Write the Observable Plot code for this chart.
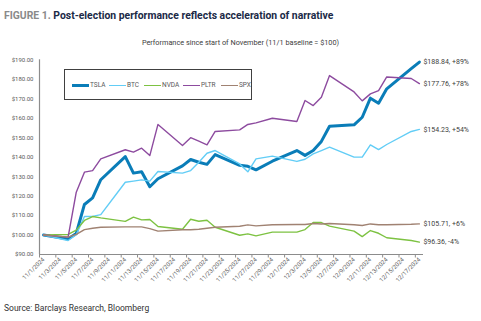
<!DOCTYPE html>
<html><head><meta charset="utf-8">
<script src="https://cdn.jsdelivr.net/npm/d3@7"></script>
<script src="https://cdn.jsdelivr.net/npm/@observablehq/plot@0.6"></script>
<style>
html,body{margin:0;padding:0;background:#fff;}
#wrap{position:relative;width:481px;height:321px;overflow:hidden;font-family:Roboto,"Open Sans",sans-serif;}
#wrap svg{position:absolute;left:0;top:0;}
#title{position:absolute;left:4px;top:9px;font-size:10.4px;font-weight:bold;color:#1b2a47;white-space:nowrap;}
#title .fig{color:#8a8a8a;}
#subtitle{position:absolute;left:0;width:481px;top:38px;text-align:center;font-size:7.3px;color:#404040;white-space:nowrap;}
#source{position:absolute;left:4px;top:303px;font-size:8.5px;color:#333;white-space:nowrap;}
#legend{position:absolute;left:64px;top:69px;width:188px;height:31px;border:1px solid #404040;box-sizing:border-box;background:#fff;}
.item{position:absolute;top:10px;height:10px;font-size:6.5px;color:#595959;line-height:10px;white-space:nowrap;}
.sw{display:inline-block;width:17px;vertical-align:middle;margin-right:1px;}
</style>
</head><body>
<div id="wrap">
  <div id="chart"></div>
  <div id="title"><span class="fig">FIGURE 1.</span> Post-election performance reflects acceleration of narrative</div>
  <div id="subtitle">Performance since start of November (11/1 baseline = $100)</div>
  <div id="legend"></div>
  <div id="source">Source: Barclays Research, Bloomberg</div>
</div>
<script>
const dates = ["2024-11-01","2024-11-04","2024-11-05","2024-11-06","2024-11-07","2024-11-08",
  "2024-11-11","2024-11-12","2024-11-13","2024-11-14","2024-11-15",
  "2024-11-18","2024-11-19","2024-11-20","2024-11-21","2024-11-22",
  "2024-11-25","2024-11-26","2024-11-27","2024-11-29",
  "2024-12-02","2024-12-03","2024-12-04","2024-12-05","2024-12-06",
  "2024-12-09","2024-12-10","2024-12-11","2024-12-12","2024-12-13",
  "2024-12-16","2024-12-17"];
const tsla = [100,98,100.8,115.7,119.1,128.4,140.3,131.8,132.5,124.8,128.9,135.5,138.8,137.4,136.3,141.3,135.8,135.3,133.5,137.9,143.4,140.9,143.4,148.1,155.9,156.6,160.5,170.3,167.7,175.1,185.5,188.84];
const btc  = [100,97.2,100.2,109.5,109.6,110.5,127.1,127.7,128.3,127.7,132.6,131.8,133.1,137.4,142,143.4,136.5,132.5,139.1,140.5,137.8,138.9,141.7,143.4,145.1,140,140,146.3,143.9,146.5,153.2,154.23];
const nvda = [100,100.3,102.5,107.5,109.5,108.8,107,109.2,107.8,108,104.4,103,108.1,107.1,107.6,104,99.9,100.6,99.6,101.5,101.5,102.8,106.4,106.4,104.6,102,99.2,102.3,100.9,98.6,97.2,96.36];
const pltr = [100,98.9,122,132.3,133.1,139.1,143.8,142.6,144.6,140.8,156.8,146,150,148.2,146.3,153.2,154,156.8,157.6,160,158.3,169.1,166.5,170.8,181.9,173.5,168.9,172.5,174.2,181.2,180.4,177.76];
const spx  = [100,98.9,100.3,102.8,103.5,104,104.2,104.2,104.2,103.3,102,102.7,102.7,103,103.5,104,104.5,105.2,104.7,105.3,105.4,105.4,105.9,105.7,105.9,105.3,104.9,105.7,105.3,105.3,105.5,105.71];

const seriesNames = ["TSLA","BTC","NVDA","PLTR","SPX"];
const seriesValues = [tsla, btc, nvda, pltr, spx];
const seriesColors = ["#0a7db8","#62cdf6","#7dc242","#8d4b9f","#a08272"];
const seriesWidths = [3, 1.4, 1.4, 1.4, 1.4];
const endLabels = ["$188.84, +89%","$154.23, +54%","$96.36, -4%","$177.76, +78%","$105.71, +6%"];
const yTicks = [90,100,110,120,130,140,150,160,170,180,190];
const xTickLabels = ["11/1/2024","11/3/2024","11/5/2024","11/7/2024","11/9/2024","11/11/2024","11/13/2024","11/15/2024","11/17/2024","11/19/2024","11/21/2024","11/23/2024","11/25/2024","11/27/2024","11/29/2024","12/1/2024","12/3/2024","12/5/2024","12/7/2024","12/9/2024","12/11/2024","12/13/2024","12/15/2024","12/17/2024"];

const parseISO = s => new Date(s + "T00:00:00Z");
const parseMDY = s => { const [m,d,y] = s.split("/").map(Number); return new Date(Date.UTC(y, m-1, d)); };
const halfDay = 12*3600*1000;

const rows = [];
seriesNames.forEach((name, i) => {
  seriesValues[i].forEach((v, j) => rows.push({series: name, date: parseISO(dates[j]), value: v}));
});
const lastRows = seriesNames.map((name, i) => ({series: name, date: parseISO(dates[dates.length-1]), value: seriesValues[i][seriesValues[i].length-1], label: endLabels[i]}));

const tickDates = xTickLabels.map(parseMDY);
const edgeDates = tickDates.map(d => new Date(+d - halfDay));
const xDomain = [new Date(+parseISO(dates[0]) - halfDay), new Date(+parseISO(dates[dates.length-1]) + halfDay)];
const fmtTick = d => `${d.getUTCMonth()+1}/${d.getUTCDate()}/${d.getUTCFullYear()}`;

const lineMarks = seriesNames.map((name, i) =>
  Plot.lineY(rows.filter(r => r.series === name), {x: "date", y: "value", stroke: seriesColors[i], strokeWidth: seriesWidths[i], strokeLinejoin: "round", strokeLinecap: "round"})
);

const chart = Plot.plot({
  width: 481, height: 321,
  marginTop: 59.3, marginBottom: 67, marginLeft: 39, marginRight: 58,
  x: {type: "utc", domain: xDomain},
  y: {domain: [90, 190]},
  style: {fontFamily: "Roboto, 'Open Sans', sans-serif", fontSize: "6px", color: "#595959", background: "transparent", overflow: "visible"},
  marks: [
    Plot.axisY({ticks: yTicks, tickSize: 0, tickPadding: 6, tickFormat: d => "$" + d.toFixed(2), label: null, fill: "#595959"}),
    Plot.axisX({ticks: tickDates, tickSize: 0, tickPadding: 4, tickRotate: -45, tickFormat: fmtTick, label: null, fill: "#595959"}),
    Plot.axisX({ticks: edgeDates, tickSize: 3.5, tickFormat: () => "", label: null, stroke: "#8c8c8c"}),
    Plot.ruleX([xDomain[0]], {stroke: "#8c8c8c", strokeWidth: 1.2}),
    Plot.ruleY([90], {stroke: "#8c8c8c", strokeWidth: 1.2}),
    ...lineMarks,
    Plot.text(lastRows, {x: "date", y: "value", text: "label", dx: 4, textAnchor: "start", fill: "#404040", fontSize: 7})
  ]
});
document.getElementById("chart").appendChild(chart);

const legend = document.getElementById("legend");
const legendLefts = [7, 44, 79, 118, 156];
seriesNames.forEach((name, i) => {
  const it = document.createElement("div");
  it.className = "item";
  it.style.left = legendLefts[i] + "px";
  it.innerHTML = `<span class="sw" style="border-top:${seriesWidths[i] > 2 ? 3 : 1.5}px solid ${seriesColors[i]}"></span>${name}`;
  legend.appendChild(it);
});
</script>
</body></html>
